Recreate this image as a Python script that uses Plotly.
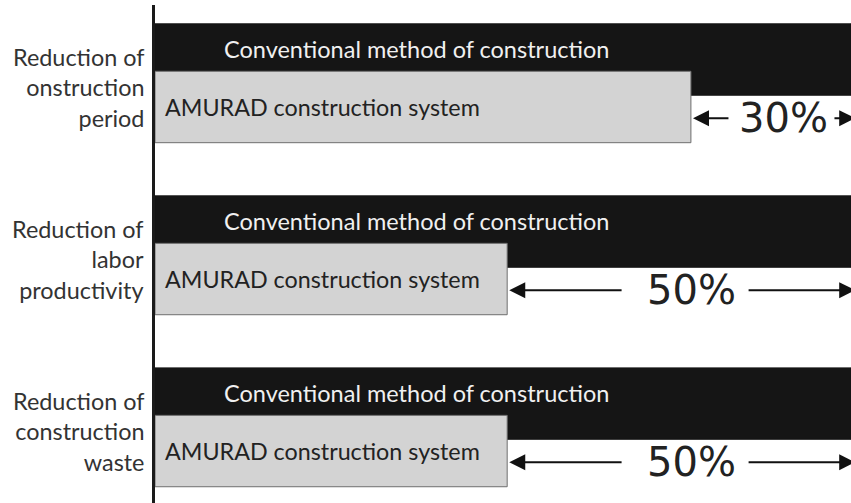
import plotly.graph_objects as go

categories = ["Reduction of<br>onstruction<br>period",
              "Reduction of<br>labor<br>productivity",
              "Reduction of<br>construction<br>waste"]
conventional = [100, 100, 100]
amurad = [77, 50.6, 50.6]
reduction_labels = ["30%", "50%", "50%"]
conv_label = "Conventional method of construction"
amurad_label = "AMURAD construction system"

W, H = 851, 503
L = 155
PX_PER_UNIT = (W - L) / 100.0
d = 0.138
bw = 0.415
pos = list(range(len(categories)))

fig = go.Figure()
fig.add_trace(go.Bar(
    y=[p - d for p in pos], x=conventional, orientation="h", width=bw,
    marker=dict(color="#151515", line=dict(color="#151515", width=1)),
    hoverinfo="skip", showlegend=False))
fig.add_trace(go.Bar(
    y=[p + d for p in pos], x=amurad, orientation="h", width=bw,
    marker=dict(color="#d3d3d3", line=dict(color="#6e6e6e", width=1)),
    hoverinfo="skip", showlegend=False))

ann = []
for i, p in enumerate(pos):
    ann.append(dict(xref="paper", yref="y", x=0, y=p + 0.025, xanchor="right",
                    yanchor="middle", xshift=-9, align="right", text=categories[i],
                    showarrow=False,
                    font=dict(family="Lato", size=23.4, color="#333333")))
    ann.append(dict(xref="x", yref="y", x=9.6, y=p - d - 0.06, xanchor="left",
                    yanchor="middle", text=conv_label, showarrow=False,
                    font=dict(family="Lato", size=23.5, color="#f0f0f0")))
    ann.append(dict(xref="x", yref="y", x=1.1, y=p + d, xanchor="left",
                    yanchor="middle", text=amurad_label, showarrow=False,
                    font=dict(family="Lato", size=23.3, color="#222222")))
    ya = p + d + 0.065
    mid = (amurad[i] + conventional[i]) / 2 + (13 if i == 0 else 12) / PX_PER_UNIT
    half = 46 / PX_PER_UNIT
    gap_l = (8 if i == 0 else 22) / PX_PER_UNIT
    gap_r = (3 if i == 0 else 10) / PX_PER_UNIT
    ann.append(dict(xref="x", yref="y", x=mid, y=ya, xanchor="center",
                    yanchor="middle", text=reduction_labels[i], showarrow=False,
                    font=dict(family="DejaVu Sans", size=40, color="#222222")))
    ann.append(dict(xref="x", yref="y", axref="x", ayref="y",
                    x=amurad[i] + 0.3, y=ya, ax=mid - half - gap_l, ay=ya,
                    text="", showarrow=True, arrowhead=2, arrowsize=1.6,
                    arrowwidth=2, arrowcolor="#111111", standoff=0))
    ann.append(dict(xref="x", yref="y", axref="x", ayref="y",
                    x=conventional[i] + 0.6, y=ya, ax=mid + half + gap_r, ay=ya,
                    text="", showarrow=True, arrowhead=2, arrowsize=1.6,
                    arrowwidth=2, arrowcolor="#111111", standoff=0))

fig.update_layout(
    width=W, height=H, barmode="overlay",
    margin=dict(l=L, r=0, t=5, b=0),
    paper_bgcolor="white", plot_bgcolor="white",
    xaxis=dict(range=[0, 100], visible=False, fixedrange=True),
    yaxis=dict(range=[2.44, -0.455], showline=True, linewidth=3,
               linecolor="#1a1a1a", showticklabels=False, showgrid=False,
               zeroline=False, ticks="", fixedrange=True),
    annotations=ann,
)
fig.write_html(
    "out.html",
    config={"displayModeBar": False},
    post_script="document.body.style.margin='0';document.body.style.overflow='hidden';",
)
